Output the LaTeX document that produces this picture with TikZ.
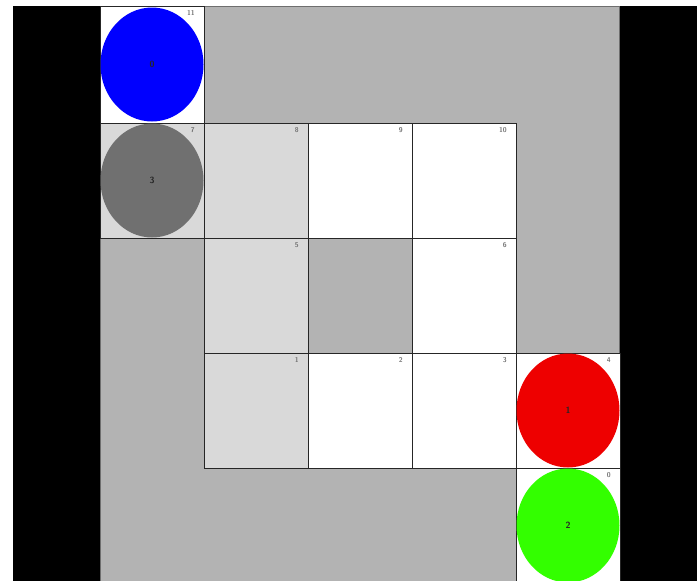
\documentclass[tikz,border=0pt]{standalone}
\usepackage{xcolor}
\definecolor{floor}{HTML}{B3B3B3}
\definecolor{seen}{HTML}{D9D9D9}
\definecolor{frame}{HTML}{6E6E6E}
\definecolor{agentblue}{HTML}{0000FF}
\definecolor{agentgray}{HTML}{707070}
\definecolor{agentred}{HTML}{EE0000}
\definecolor{agentgreen}{HTML}{33FF00}
\usepackage{tikz}
\usetikzlibrary{positioning, shapes.geometric}
\tikzset{
  cell/.style={draw=black!85, line width=0.7pt, minimum width=104pt, minimum height=115pt,
    inner sep=0pt, outer sep=0pt, anchor=north west},
  free/.style={cell, fill=white},
  visited/.style={cell, fill=seen},
  blocked/.style={cell, fill=floor},
  idx/.style={font=\scriptsize\sffamily\bfseries, text=black!55, anchor=north east, inner sep=0pt},
  agent/.style={ellipse, draw=none, minimum width=103pt, minimum height=114pt, inner sep=0pt,
    font=\small\sffamily\bfseries, text=black!85},
}

\begin{document}
\begin{tikzpicture}[x=1pt, y=-1pt]
  \useasboundingbox (0,0) rectangle (697,581);
  \clip (0,0) rectangle (697,581);
  \fill[white] (0,0) rectangle (697,581);
  \fill[black] (13,6) rectangle (697,581);
  \fill[floor] (100,6) rectangle (619,581);
  \draw[frame, line width=0.8pt] (100,581) -- (100,6) -- (619,6) -- (619,581);

  % grid cells, row by row
  \node[free, minimum height=117pt] (c11) at (100,6) {};
  \node[visited, below=0pt of c11] (c7) {};
  \node[visited, right=0pt of c7] (c8) {};
  \node[free, right=0pt of c8] (c9) {};
  \node[free, right=0pt of c9] (c10) {};
  \node[visited, below=0pt of c8] (c5) {};
  \node[blocked, right=0pt of c5] (cx) {};
  \node[free, right=0pt of cx] (c6) {};
  \node[visited, below=0pt of c5] (c1) {};
  \node[free, right=0pt of c1] (c2) {};
  \node[free, right=0pt of c2] (c3) {};
  \node[free, right=0pt of c3] (c4) {};
  \node[free, below=0pt of c4] (c0) {};

  % agents
  \foreach \c/\cl/\k in {c11/agentblue/0, c7/agentgray/3, c4/agentred/1, c0/agentgreen/2}
    \node[agent, fill=\cl] (a\k) at (\c) {\k};

  % cell numbers
  \foreach \n in {0,...,11}
    \node[idx] (l\n) at ([xshift=-9pt, yshift=-4pt]c\n.north east) {\n};
\end{tikzpicture}
\end{document}
